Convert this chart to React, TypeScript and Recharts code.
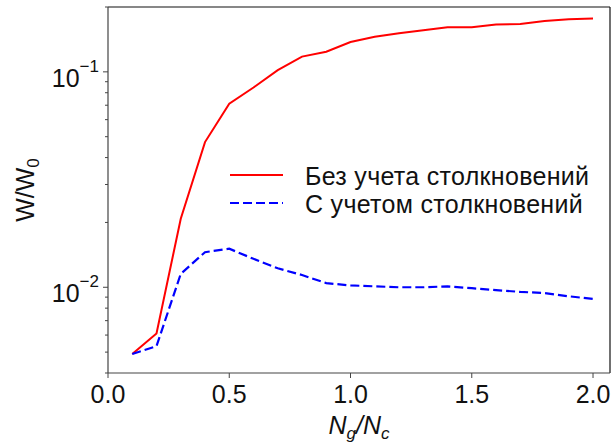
import { LineChart, Line, XAxis, YAxis, ReferenceLine } from 'recharts'

const FONT = '"Liberation Sans", Arial, sans-serif'
const AXIS = '#444'
const TEXT = '#111'

const ratio = [0.1, 0.2, 0.3, 0.4, 0.5, 0.6, 0.7, 0.8, 0.9, 1.0, 1.1, 1.2, 1.3, 1.4, 1.5, 1.6, 1.7, 1.8, 1.9, 2.0]
const withoutCollisions = [
  0.0049, 0.0061, 0.0208, 0.0472, 0.0711, 0.0846, 0.1018, 0.1177, 0.124, 0.1375,
  0.1456, 0.151, 0.156, 0.161, 0.161, 0.166, 0.1667, 0.172, 0.1754, 0.177,
]
const withCollisions = [
  0.0049, 0.00533, 0.01154, 0.01455, 0.0151, 0.01355, 0.01225, 0.0114, 0.01045, 0.0102,
  0.0101, 0.01, 0.01, 0.0101, 0.0099, 0.0097, 0.00952, 0.0094, 0.00908, 0.00883,
]

const xTicks = [0, 0.5, 1, 1.5, 2]
const yTicks = [
  0.004, 0.005, 0.006, 0.007, 0.008, 0.009, 0.01,
  0.02, 0.03, 0.04, 0.05, 0.06, 0.07, 0.08, 0.09, 0.1, 0.2,
]
const majorY = [0.01, 0.1]
const xDomain: [number, number] = [0, 2.07]
const yDomain: [number, number] = [0.004, 0.2]

const legendItems = [
  { label: 'Без учета столкновений', color: 'red', dash: undefined },
  { label: 'С учетом столкновений', color: 'blue', dash: '9 4' },
]

const data = ratio.map((x, i) => ({
  x,
  free: withoutCollisions[i],
  coll: withCollisions[i],
}))

function XTick({ x, y, payload }: any) {
  return (
    <g>
      <line x1={x} x2={x} y1={y} y2={y + 5} stroke={AXIS} />
      <text x={x} y={y + 30} textAnchor="middle" fontSize={25} fill={TEXT} fontFamily={FONT}>
        {payload.value.toFixed(1)}
      </text>
    </g>
  )
}

function YTick({ x, y, payload }: any) {
  const v = payload.value
  const major = majorY.includes(v)
  const exp = Math.round(Math.log10(v))
  return (
    <g>
      <line x1={x} x2={x - (major ? 5 : 3)} y1={y} y2={y} stroke={AXIS} />
      {major && (
        <text x={x - 9} y={y + 15} textAnchor="end" fontSize={25} fill={TEXT} fontFamily={FONT}>
          10
          <tspan dy={-15} fontSize={17}>
            {'\u2212' + Math.abs(exp)}
          </tspan>
        </text>
      )}
    </g>
  )
}

function XLabel({ viewBox }: any) {
  const cx = viewBox.x + viewBox.width / 2
  return (
    <text x={cx} y={viewBox.y + 61} textAnchor="middle" fontSize={25} fontStyle="italic" fill={TEXT} fontFamily={FONT}>
      N<tspan dy={5} fontSize={17}>g</tspan>
      <tspan dy={-5}>/N</tspan>
      <tspan dy={5} fontSize={17}>c</tspan>
    </text>
  )
}

function YLabel({ viewBox }: any) {
  const cy = viewBox.y + viewBox.height / 2
  return (
    <text
      x={34}
      y={cy}
      transform={`rotate(-90 34 ${cy})`}
      textAnchor="middle"
      fontSize={25}
      fill={TEXT}
      fontFamily={FONT}
    >
      W/W<tspan dy={5} fontSize={17}>0</tspan>
    </text>
  )
}

function Legend() {
  return (
    <svg
      width={400}
      height={70}
      style={{ position: 'absolute', left: 220, top: 155, overflow: 'visible' }}
    >
      {legendItems.map((item, i) => (
        <g key={item.label} transform={`translate(0, ${i * 28})`}>
          <line x1={10} x2={63} y1={20} y2={20} stroke={item.color} strokeWidth={2.2} strokeDasharray={item.dash} />
          <text x={85} y={30} fontSize={25} letterSpacing={0.3} fill={TEXT} fontFamily={FONT}>
            {item.label}
          </text>
        </g>
      ))}
    </svg>
  )
}

export default function App() {
  return (
    <div style={{ position: 'absolute', left: 0, top: 0, width: 612, height: 446, background: '#fff' }}>
      <LineChart width={612} height={446} data={data} margin={{ top: 7, right: 2, left: 0, bottom: 0 }}>
        <XAxis
          dataKey="x"
          type="number"
          domain={xDomain}
          ticks={xTicks}
          interval={0}
          allowDataOverflow
          height={73}
          tickSize={0}
          tickMargin={0}
          tickLine={false}
          tick={<XTick />}
          axisLine={{ stroke: AXIS, strokeWidth: 1.2 }}
          label={<XLabel />}
        />
        <YAxis
          type="number"
          scale="log"
          domain={yDomain}
          ticks={yTicks}
          interval={0}
          allowDataOverflow
          width={108}
          tickSize={0}
          tickMargin={0}
          tickLine={false}
          tick={<YTick />}
          axisLine={{ stroke: AXIS, strokeWidth: 1.2 }}
          label={<YLabel />}
        />
        <ReferenceLine y={yDomain[1]} stroke={TEXT} strokeWidth={1.2} />
        <ReferenceLine x={xDomain[1]} stroke={TEXT} strokeWidth={1.2} />
        <Line dataKey="free" stroke="red" strokeWidth={2} dot={false} isAnimationActive={false} />
        <Line
          dataKey="coll"
          stroke="blue"
          strokeWidth={2.2}
          strokeDasharray="9 4"
          dot={false}
          isAnimationActive={false}
        />
      </LineChart>
      <Legend />
    </div>
  )
}
